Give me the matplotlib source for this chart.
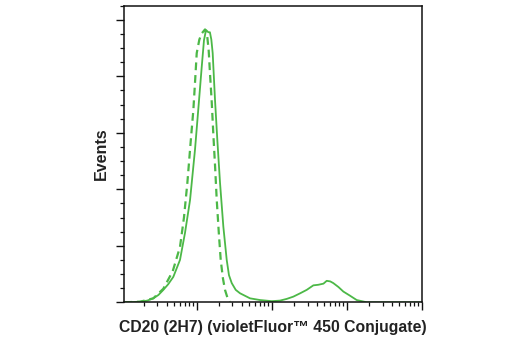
import matplotlib
matplotlib.use('Agg')
import matplotlib.pyplot as plt
from matplotlib.ticker import MultipleLocator, LogLocator, NullFormatter
import numpy as np

# ---- Data (log10 fluorescence, events in arbitrary units) ----
solid_logx = [1.035, 1.150, 1.244, 1.340, 1.421, 1.490, 1.555, 1.620, 1.688,
              1.777, 1.844, 1.911, 1.977, 2.031, 2.067, 2.097, 2.124, 2.140,
              2.155, 2.176, 2.195, 2.213, 2.244, 2.275, 2.311, 2.355, 2.400,
              2.430, 2.467, 2.520, 2.577, 2.711, 2.844, 3.000, 3.111, 3.200,
              3.288, 3.380, 3.467, 3.555, 3.621, 3.690, 3.733, 3.780, 3.821,
              3.890, 3.955, 4.040, 4.133, 4.267, 4.990]
solid_y = [0.00, 0.005, 0.01, 0.03, 0.07, 0.13, 0.22, 0.32, 0.45,
           0.75, 1.23, 1.81, 2.70, 3.58, 4.17, 4.64, 4.82, 4.80,
           4.78, 4.78, 4.65, 4.41, 3.58, 2.87, 2.11, 1.34, 0.75,
           0.48, 0.34, 0.22, 0.16, 0.07, 0.04, 0.02, 0.03, 0.06,
           0.10, 0.16, 0.22, 0.30, 0.31, 0.33, 0.38, 0.37, 0.34,
           0.27, 0.19, 0.12, 0.04, 0.00, 0.00]

dashed_logx = [1.035, 1.244, 1.421, 1.555, 1.680, 1.777, 1.830, 1.875,
               1.920, 1.955, 1.980, 2.000, 2.035, 2.067, 2.111, 2.141,
               2.160, 2.177, 2.200, 2.221, 2.245, 2.267, 2.295, 2.320,
               2.350, 2.377, 2.410, 2.444]
dashed_y = [0.00, 0.01, 0.07, 0.24, 0.55, 0.98, 1.50, 2.11,
            2.85, 3.40, 3.95, 4.41, 4.65, 4.76, 4.83, 4.70,
            4.45, 4.05, 3.55, 2.99, 2.40, 1.81, 1.22, 0.75,
            0.42, 0.22, 0.08, 0.01]

GREEN = '#4CB847'
FONT = ['Liberation Sans Narrow', 'Liberation Sans', 'DejaVu Sans']

fig = plt.figure(figsize=(5.2, 3.5), dpi=100)
ax = fig.add_axes([0.2394, 0.1363, 0.5716, 0.8474])

ax.plot(np.power(10.0, solid_logx), solid_y, color=GREEN, lw=1.3)
ax.plot(np.power(10.0, dashed_logx), dashed_y, color=GREEN, lw=1.6,
        linestyle=(0, (3.5, 2.2)))

ax.set_xscale('log')
ax.set_xlim(10 ** 1.037, 1e5)
ax.set_ylim(0, 5.25)
ax.xaxis.set_major_locator(LogLocator(base=10, numticks=10))
ax.xaxis.set_minor_locator(LogLocator(base=10, subs=np.arange(2, 10), numticks=20))
ax.xaxis.set_major_formatter(NullFormatter())
ax.xaxis.set_minor_formatter(NullFormatter())
ax.yaxis.set_major_locator(MultipleLocator(1))
ax.yaxis.set_minor_locator(MultipleLocator(0.25))
ax.set_yticklabels([])

for s in ax.spines.values():
    s.set_linewidth(1.1)
    s.set_color('#111111')
ax.tick_params(which='major', length=5.5, width=1.0, color='#111111')
ax.tick_params(which='minor', length=2.8, width=0.9, color='#111111')

ax.set_xlabel('CD20 (2H7) (violetFluor\u2122 450 Conjugate)', family=FONT,
              fontsize=11.3, fontweight='bold', color='#222222', labelpad=4)
ax.set_ylabel('Events', family=FONT, fontsize=11.5, fontweight='bold',
              color='#222222', labelpad=2)

fig.savefig('out.png', dpi=100, facecolor='white')
